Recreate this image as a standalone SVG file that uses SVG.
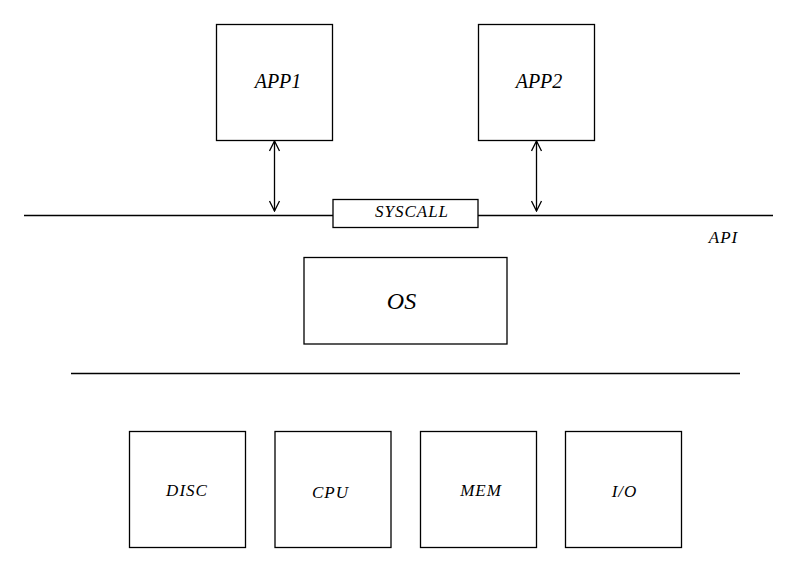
<svg xmlns="http://www.w3.org/2000/svg" width="803" height="566" viewBox="0 0 803 566">
  <style>
    .box { fill: #ffffff; stroke: #000000; stroke-width: 1.3; }
    .line { fill: none; stroke: #000000; stroke-width: 1.3; }
    .lbl { font-family: "Liberation Serif", "Times New Roman", serif; font-style: italic; fill: #000000; text-anchor: middle; }
    .sm { font-size: 17px; letter-spacing: 1px; }
  </style>
  <defs>
    <marker id="open" viewBox="0 0 12 12" refX="11" refY="6" markerWidth="12" markerHeight="12" markerUnits="userSpaceOnUse" orient="auto-start-reverse">
      <path d="M1,1 L11,6 L1,11" fill="none" stroke="#000000" stroke-width="1.3"/>
    </marker>
  </defs>

  <rect width="803" height="566" fill="#ffffff"/>

  <!-- horizontal layer lines and API connectors -->
  <g id="connectors">
    <line class="line" x1="24" y1="215.5" x2="333" y2="215.5"/>
    <line class="line" x1="478" y1="215.5" x2="773" y2="215.5"/>
    <line class="line" x1="71" y1="373.5" x2="740" y2="373.5"/>
    <line class="line" x1="274.5" y1="141" x2="274.5" y2="211" marker-start="url(#open)" marker-end="url(#open)"/>
    <line class="line" x1="536.5" y1="141" x2="536.5" y2="211" marker-start="url(#open)" marker-end="url(#open)"/>
  </g>

  <g id="app1">
    <rect class="box" x="216.5" y="24.5" width="116" height="116"/>
    <text class="lbl" x="278" y="88" font-size="20">APP1</text>
  </g>
  <g id="app2">
    <rect class="box" x="478.5" y="24.5" width="116" height="116"/>
    <text class="lbl" x="539" y="88" font-size="20">APP2</text>
  </g>
  <g id="syscall">
    <rect class="box" x="333" y="199.5" width="145" height="28"/>
    <text class="lbl sm" x="412" y="217" letter-spacing="0.9">SYSCALL</text>
  </g>
  <g id="api">
    <text class="lbl sm" x="723.5" y="243" letter-spacing="0.5">API</text>
  </g>
  <g id="os">
    <rect class="box" x="304" y="257.5" width="203" height="86.5"/>
    <text class="lbl" x="401.5" y="309" font-size="24">OS</text>
  </g>
  <g id="disc">
    <rect class="box" x="129.5" y="431.5" width="116" height="116"/>
    <text class="lbl sm" x="187" y="496" letter-spacing="2">DISC</text>
  </g>
  <g id="cpu">
    <rect class="box" x="275" y="431.5" width="116" height="116"/>
    <text class="lbl sm" x="330.5" y="498">CPU</text>
  </g>
  <g id="mem">
    <rect class="box" x="420.5" y="431.5" width="116" height="116"/>
    <text class="lbl sm" x="481" y="496">MEM</text>
  </g>
  <g id="io">
    <rect class="box" x="565.5" y="431.5" width="116" height="116"/>
    <text class="lbl sm" x="624.5" y="497">I/O</text>
  </g>
</svg>
